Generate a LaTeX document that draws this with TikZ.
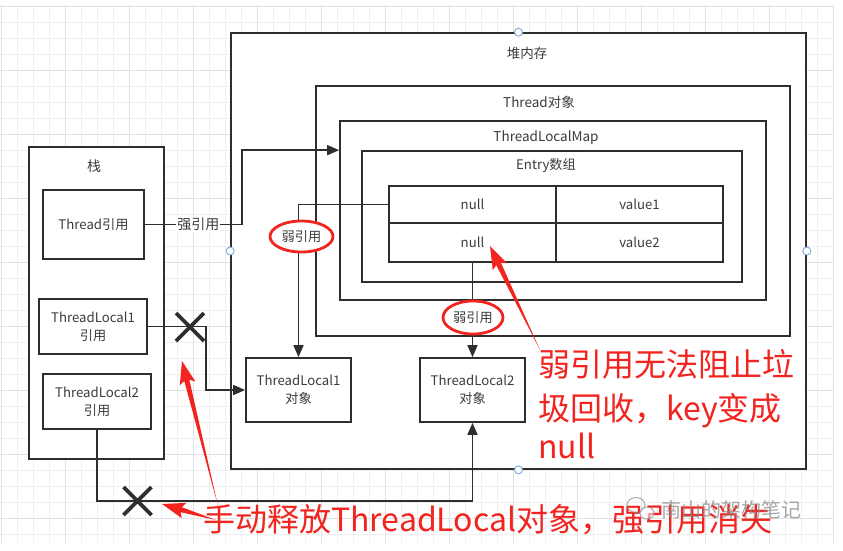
\documentclass[tikz,border=0pt]{standalone}
\usepackage{fontspec}
\newfontfamily\cjk{Noto Sans CJK SC}
\usetikzlibrary{arrows.meta,calc,shapes.geometric}
\definecolor{ln}{HTML}{2E2E2E}
\definecolor{tx}{HTML}{3C3C3C}
\definecolor{rd}{HTML}{F2241F}
\definecolor{hd}{HTML}{7BA7D9}
\definecolor{gmin}{HTML}{EFEFEF}
\definecolor{gmaj}{HTML}{E2E2E2}
\definecolor{wm}{HTML}{8A8A8A}
\newcommand\redarrow[2]{\fill[rd] (#1) -- ($(#2)!20pt!(#1)!2.6pt!90:(#1)$) -- ($(#2)!23pt!(#1)!8pt!90:(#1)$) -- (#2) -- ($(#2)!23pt!(#1)!8pt!-90:(#1)$) -- ($(#2)!20pt!(#1)!2.6pt!-90:(#1)$) -- cycle;}
\begin{document}
\begin{tikzpicture}[x=1pt,y=-1pt,
  box/.style={draw=ln,line width=1.7pt,fill=white,inner sep=0pt},
  lbl/.style={font=\cjk\fontsize{13.2}{18}\selectfont,text=tx,inner sep=1pt,align=center},
  conn/.style={draw=ln,line width=1.7pt,-{Triangle[length=12pt,width=10pt]}},
  weak/.style={ellipse,draw=rd,line width=2.8pt,fill=white,inner sep=0pt,font=\cjk\fontsize{13.2}{16}\selectfont,text=tx},
  handle/.style={circle,draw=hd,line width=0.9pt,fill=white,minimum size=8pt,inner sep=0pt},
  crossline/.style={draw=ln,line width=3.6pt},
  redtxt/.style={font=\cjk\fontsize{32}{43}\selectfont,text=rd,inner sep=0pt}]
\useasboundingbox (0,0) rectangle (843,550);
\fill[white] (0,0) rectangle (843,550);
% grid
\foreach \x in {1,17,...,833} \draw[gmin,line width=0.8pt] (\x,5) -- (\x,543);
\foreach \y in {6,22,...,534} \draw[gmin,line width=0.8pt] (0,\y) -- (833,\y);
\foreach \x in {1,65,...,833} \draw[gmaj,line width=0.8pt] (\x,5) -- (\x,543);
\foreach \y in {6,70,...,518} \draw[gmaj,line width=0.8pt] (0,\y) -- (833,\y);

% heap
\node[box,minimum width=575pt,minimum height=436pt] (heap) at (518.5,251) {};
\node[lbl,font=\cjk\fontsize{13.5}{16}\selectfont] (heapl) at (527,53) {堆内存};
\node[box,minimum width=474pt,minimum height=250pt] (tobj) at (553,211) {};
\node[lbl,font=\cjk\fontsize{13.5}{16}\selectfont] (tobjl) at (539,102) {Thread对象};
\node[box,minimum width=426pt,minimum height=179pt] (tlmap) at (553,210.5) {};
\node[lbl,font=\cjk\fontsize{13.5}{16}\selectfont] (tlmapl) at (546,138) {ThreadLocalMap};
\node[box,minimum width=380pt,minimum height=131pt] (entry) at (552,216.5) {};
\node[lbl] (entryl) at (546,165) {Entry数组};
\node[box,lbl,draw=ln,line width=1.7pt,minimum width=167pt,minimum height=37pt] (c11) at (472.5,204.5) {null};
\node[box,lbl,draw=ln,line width=1.7pt,minimum width=167pt,minimum height=37pt] (c12) at (639.5,204.5) {value1};
\node[box,lbl,draw=ln,line width=1.7pt,minimum width=167pt,minimum height=39pt] (c21) at (472.5,242.5) {null};
\node[box,lbl,draw=ln,line width=1.7pt,minimum width=167pt,minimum height=39pt] (c22) at (639.5,242.5) {value2};

\node[box,lbl,draw=ln,line width=1.7pt,minimum width=105pt,minimum height=64pt] (tl1obj) at (298.5,390) {ThreadLocal1\\对象};
\node[box,lbl,draw=ln,line width=1.7pt,minimum width=105pt,minimum height=64pt] (tl2obj) at (472.5,390) {ThreadLocal2\\对象};

% stack
\node[box,minimum width=135pt,minimum height=312pt] (stack) at (96.5,303) {};
\node[lbl,font=\cjk\fontsize{14}{16}\selectfont] (stackl) at (94,166) {栈};
\node[box,lbl,draw=ln,line width=1.7pt,minimum width=101pt,minimum height=69pt] (tref) at (93.5,224.5) {Thread引用};
\node[box,lbl,draw=ln,line width=1.7pt,minimum width=108pt,minimum height=55pt] (tl1ref) at (93,326.5) {ThreadLocal1\\引用};
\node[box,lbl,draw=ln,line width=1.7pt,minimum width=108pt,minimum height=55pt] (tl2ref) at (97,401.5) {ThreadLocal2\\引用};

% handles
\foreach \a in {west,north,east,south} \node[handle] (h\a) at (heap.\a) {};

% connectors
\draw[conn] (tref.east) -- node[lbl,fill=white,pos=0.55,inner sep=1pt,font=\cjk\fontsize{14}{16}\selectfont] (strong) {强引用} (242,224.5) |- ($(tlmap.north west)+(0,30)$);
\draw[conn] (c11.west) -| (tl1obj.north);
\draw[conn] (c21.south) -- (tl2obj.north);
\draw[conn] (tl1ref.east) -- (206,326.5) |- (tl1obj.west);
\draw[conn] (tl2ref.south) |- ($(tl2obj.south)+(0,78)$) -- (tl2obj.south);

\node[weak,minimum width=63pt,minimum height=31pt] (w1) at (301.5,236.5) {弱引用};
\node[weak,minimum width=60pt,minimum height=33pt] (w2) at (473,317.5) {弱引用};

% crosses
\coordinate (x1) at (190,327);
\coordinate (x2) at (137.5,501);
\draw[crossline] ($(x1)+(-14,-14)$) -- ($(x1)+(14,14)$) ($(x1)+(-14,14)$) -- ($(x1)+(14,-14)$);
\draw[crossline] ($(x2)+(-14,-14)$) -- ($(x2)+(14,14)$) ($(x2)+(-14,14)$) -- ($(x2)+(14,-14)$);

% red annotations
\coordinate (ra1t) at (540,350);
\coordinate (ra1h) at (490,246);
\coordinate (ra2t) at (218,506);
\coordinate (ra2h) at (182,361);
\coordinate (ra3t) at (216,520);
\coordinate (ra3h) at (162,504);
\redarrow{ra1t}{ra1h}
\redarrow{ra2t}{ra2h}
\redarrow{ra3t}{ra3h}
\node[redtxt,anchor=base west] (r1) at (538,376) {弱引用无法阻止垃};
\node[redtxt,anchor=base west] (r2) at (538,420) {圾回收，key变成};
\node[redtxt,anchor=base west] (r3) at (538,458) {null};
\node[redtxt,anchor=base west] (r4) at (203,531) {手动释放ThreadLocal对象，强引用消失};

% watermark
\draw[wm,line width=1pt,opacity=0.7] (636,505) ellipse [x radius=9,y radius=7.5];
\draw[wm,line width=1pt,opacity=0.7,fill=white,fill opacity=0.5] (647,513) ellipse [x radius=7,y radius=6];
\node[font=\cjk\fontsize{20}{22}\selectfont,text=wm,opacity=0.75,anchor=west,inner sep=0pt] (wmk) at (661,510) {南山的架构笔记};
\end{tikzpicture}
\end{document}
